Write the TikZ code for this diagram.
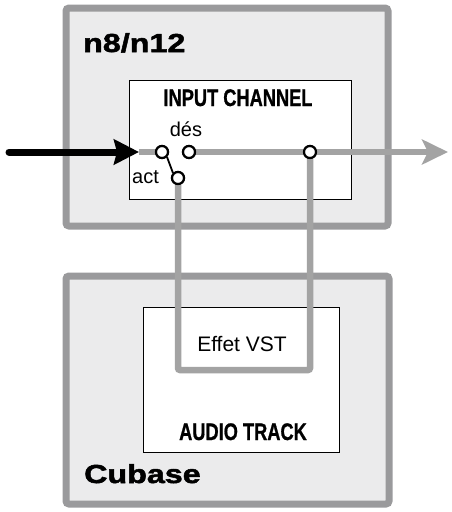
\documentclass[tikz,border=0pt]{standalone}
\usepackage{fontspec}
\setmainfont{Liberation Sans}
\newfontfamily\widefont[FakeStretch=1.24,FakeBold=2]{Liberation Sans Bold}
\newfontfamily\condfont[FakeStretch=0.76,FakeBold=0.8]{Liberation Sans Bold}
\usetikzlibrary{arrows.meta}
\definecolor{framegray}{HTML}{9A9A9C}
\definecolor{panelfill}{HTML}{EBEBEC}
\definecolor{sig}{HTML}{A3A3A3}
\tikzset{
  panel/.style={draw=framegray, fill=panelfill, line width=7pt, rounded corners=3pt},
  inner/.style={draw=black, fill=white, line width=0.8pt},
  port/.style={circle, draw=black, fill=white, line width=2.2pt, minimum size=12pt, inner sep=0pt},
  sigline/.style={draw=sig, line width=6.5pt},
  wide/.style={font=\widefont\fontsize{26}{30}\selectfont, inner sep=0pt},
  cond/.style={font=\condfont\fontsize{24}{28}\selectfont, inner sep=0pt},
  plain/.style={font=\fontsize{19}{22}\selectfont, inner sep=0pt},
}
\begin{document}
\begin{tikzpicture}[x=1pt,y=-1pt]
\useasboundingbox (0,0) rectangle (451,512);
% outer panels
\draw[panel] (66,8) rectangle (388,226);
\draw[panel] (66,276) rectangle (389,504);
% inner boxes
\draw[inner] (129,80) rectangle (351,199);
\draw[inner] (143,307) rectangle (339,452);
% labels
\node[wide, anchor=base west] (n8) at (83,52) {n8/n12};
\node[wide, anchor=base west] (cub) at (84,483) {Cubase};
\node[cond, anchor=base] (ic) at (238,106) {INPUT CHANNEL};
\node[cond, anchor=base] (at) at (243,440) {AUDIO TRACK};
\node[plain, font=\fontsize{21}{24}\selectfont, anchor=base] (vst) at (242,351) {Effet VST};
\node[plain, font=\fontsize{20}{24}\selectfont, anchor=base] (des) at (186,136) {dés};
\node[plain, font=\fontsize{20}{24}\selectfont, anchor=base west] (act) at (132,183) {act};
% ports
\node[port] (c1) at (162,152) {};
\node[port] (c2) at (189,152) {};
\node[port] (c3) at (310,152) {};
\node[port] (ca) at (178,178) {};
\coordinate (tipin) at (139,152);
\coordinate (start) at (9,152);
\coordinate (outtip) at (448,152);
\coordinate (ul) at (178,370);
\coordinate (ur) at (310,370);
% signal lines
\draw[sigline] (tipin) -- (c1.west);
\draw[sigline, -{Stealth[length=26pt,width=25pt,inset=6pt]}] (c2.east) -- (outtip);
\draw[sigline, rounded corners=2pt] (ca.south) -- (ul) -- (ur) -- (c3.south);
% redraw ports on top
\node[port] at (c1) {};
\node[port] at (c2) {};
\node[port] at (c3) {};
\node[port] at (ca) {};
% switch
\draw[line width=1.8pt] (c1.south east) -- (ca.north west);
% input arrow
\draw[line width=7pt, line cap=round, -{Stealth[length=25pt,width=25pt,inset=3pt]}] (start) -- (tipin);
\end{tikzpicture}
\end{document}
